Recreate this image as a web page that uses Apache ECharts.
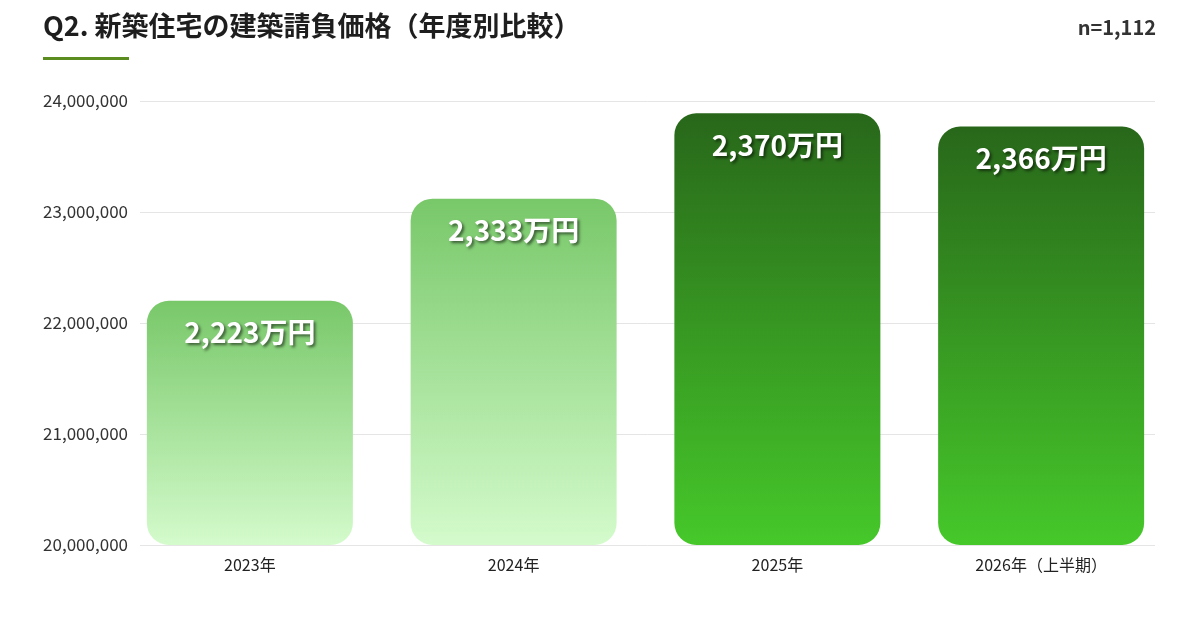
<!DOCTYPE html>
<html>
<head>
<meta charset="utf-8">
<script src="https://cdn.jsdelivr.net/npm/echarts@6/dist/echarts.min.js"></script>
<style>
html,body{margin:0;padding:0;background:#ffffff;}
#chart{width:1200px;height:624px;}
</style>
</head>
<body>
<div id="chart"></div>
<script>
// ---- data ----
const categories = ['2023年', '2024年', '2025年', '2026年（上半期）'];
const values = [22200000, 23120000, 23890000, 23770000];
const valueLabels = ['2,223万円', '2,333万円', '2,370万円', '2,366万円'];
const yTicks = [20000000, 21000000, 22000000, 23000000, 24000000];
const titleText = 'Q2. 新築住宅の建築請負価格（年度別比較）';
const sampleText = 'n=1,112';

// ---- styles ----
const FONT = '"Noto Sans CJK JP", "Noto Sans", sans-serif';
const lightGrad = ['#78c869', '#d4fbcc'];
const darkGrad = ['#28671a', '#46c82a'];
const gradFor = [lightGrad, lightGrad, darkGrad, darkGrad];

const chart = echarts.init(document.getElementById('chart'), null, {renderer: 'canvas'});

const yMin = yTicks[0], yMax = yTicks[yTicks.length - 1];
const yStep = yTicks[1] - yTicks[0];

const option = {
  backgroundColor: '#ffffff',
  animation: false,
  graphic: [
    {type: 'text', left: 43, top: 12, style: {text: titleText, font: 'bold 27px ' + FONT, fill: '#1e1e1e'}},
    {type: 'rect', left: 43, top: 57, shape: {width: 86, height: 3}, style: {fill: '#5b8c1f'}},
    {type: 'text', right: 44, top: 17, style: {text: sampleText, font: 'bold 20px ' + FONT, fill: '#333333'}}
  ],
  grid: [
    {left: 140, right: 45, top: 101, bottom: 79},
    {left: 118, right: 27, top: 101, bottom: 79}
  ],
  xAxis: [
    {gridIndex: 0, type: 'category', data: categories, show: false},
    {gridIndex: 1, type: 'category', data: categories,
      axisLine: {show: false}, axisTick: {show: false},
      axisLabel: {color: '#222', fontSize: 16, fontFamily: FONT, margin: 12}}
  ],
  yAxis: [
    {gridIndex: 0, type: 'value', min: yMin, max: yMax, interval: yStep,
      axisLine: {show: false}, axisTick: {show: false},
      axisLabel: {color: '#333', fontSize: 17, fontFamily: FONT, margin: 12,
        formatter: v => v.toLocaleString('en-US')},
      splitLine: {lineStyle: {color: '#e5e5e5', width: 1}}},
    {gridIndex: 1, type: 'value', min: yMin, max: yMax, interval: yStep, show: false,
      splitLine: {show: false}}
  ],
  series: [{
    type: 'bar',
    xAxisIndex: 1, yAxisIndex: 1,
    barWidth: 206,
    data: values.map((v, i) => ({
      value: v,
      itemStyle: {
        color: new echarts.graphic.LinearGradient(0, 0, 0, 1, [
          {offset: 0, color: gradFor[i][0]},
          {offset: 1, color: gradFor[i][1]}
        ]),
        borderRadius: 22
      }
    })),
    label: {
      show: true,
      position: 'insideTop',
      distance: 18,
      formatter: p => valueLabels[p.dataIndex],
      color: '#ffffff',
      fontSize: 28,
      fontWeight: 'bold',
      fontFamily: FONT,
      textShadowColor: 'rgba(0,0,0,0.55)',
      textShadowBlur: 3,
      textShadowOffsetX: 2,
      textShadowOffsetY: 2
    }
  }]
};

chart.setOption(option);
</script>
</body>
</html>
